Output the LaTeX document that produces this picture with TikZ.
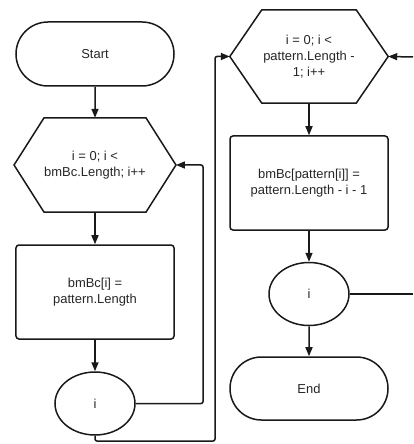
\documentclass[tikz,border=0pt]{standalone}
\usepackage{fontspec}
\setmainfont{Liberation Sans}
\usetikzlibrary{shapes.geometric,shapes.misc,arrows.meta,calc}

\begin{document}
\begin{tikzpicture}[x=1bp,y=-1bp,
  every node/.style={font=\fontsize{13}{16}\selectfont, text=black!85, align=center, inner sep=0pt},
  line/.style={draw=black!90, line width=1.5bp},
  flow/.style={line, -{Triangle[length=9bp,width=7bp]}},
  terminal/.style={line, rounded rectangle, minimum width=158bp, minimum height=64bp},
  process/.style={line, rectangle, rounded corners=3bp, minimum width=158bp, minimum height=94bp},
  hexcore/.style={rectangle, minimum height=94bp},
  junction/.style={line, ellipse, minimum width=80bp, minimum height=63bp}
]
\useasboundingbox (0,0) rectangle (413,444);

% left column: first loop
\node[terminal] (start) at (95,54) {Start};
\node[hexcore, minimum width=98bp] (hx1) at (95,165) {i = 0; i <\\bmBc.Length; i++};
\coordinate (hx1e) at ($(hx1.east)+(30,0)$);
\coordinate (hx1w) at ($(hx1.west)+(-30,0)$);
\draw[line] (hx1.north west) -- (hx1.north east) -- (hx1e) -- (hx1.south east)
  -- (hx1.south west) -- (hx1w) -- cycle;
\node[process] (r1) at (95,292) {bmBc[i] =\\pattern.Length};
\node[junction] (el1) at (95,403.5) {i};

% right column: second loop
\node[hexcore, minimum width=94bp, minimum height=93bp] (hx2) at (309,56.5) {i = 0; i <\\pattern.Length -\\1; i++};
\coordinate (hx2e) at ($(hx2.east)+(32,0)$);
\coordinate (hx2w) at ($(hx2.west)+(-32,0)$);
\draw[line] (hx2.north west) -- (hx2.north east) -- (hx2e) -- (hx2.south east)
  -- (hx2.south west) -- (hx2w) -- cycle;
\node[process] (r2) at (309,183) {bmBc[pattern[i]] =\\pattern.Length - i - 1};
\node[junction] (el2) at (309,294) {i};
\node[terminal, minimum height=63bp] (end) at (309,388.5) {End};

% connectors
\draw[flow] (start) -- (hx1);
\draw[flow] (hx1) -- (r1);
\draw[flow] (r1) -- (el1);
\coordinate (back1) at (203,165);
\draw[flow, rounded corners=2bp] (el1.east) -| (back1) -- (hx1e);
\coordinate (bus) at (215,441);
\draw[flow, rounded corners=2bp] (el1.south) |- (bus) |- (hx2w);

\draw[flow] (hx2) -- (r2);
\draw[flow] (r2) -- (el2);
\draw[flow] (el2) -- (end);
\coordinate (rim1) at (413,57);
\coordinate (rim2) at (413,294);
\draw[flow] (rim1) -- (hx2e);
\draw[line] (el2.east) -- (rim2);
\end{tikzpicture}
\end{document}
